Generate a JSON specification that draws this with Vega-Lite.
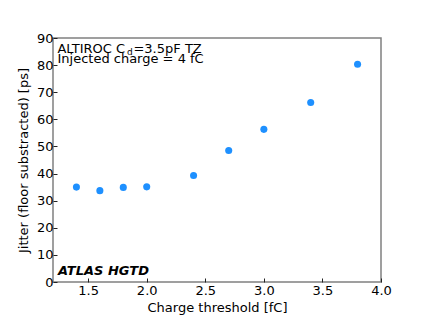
{
  "$schema": "https://vega.github.io/schema/vega-lite/v6.json",
  "width": 328,
  "height": 244,
  "autosize": "none",
  "padding": {"left": 53, "top": 38, "right": 42, "bottom": 36},
  "background": "white",
  "config": {
    "font": "DejaVu Sans",
    "view": {"stroke": "#808080", "strokeWidth": 1.5},
    "axis": {
      "domain": false,
      "grid": false,
      "ticks": true,
      "tickSize": -4,
      "tickColor": "#222",
      "tickWidth": 1,
      "labelOverlap": false,
      "labelFlush": false,
      "labelFont": "DejaVu Sans",
      "labelFontSize": 13,
      "labelColor": "black",
      "titleFont": "DejaVu Sans",
      "titleFontSize": 13,
      "titleFontWeight": "normal",
      "titleColor": "black"
    }
  },
  "layer": [
    {
      "data": {
        "values": [
          {"threshold": 1.4, "jitter": 35.0},
          {"threshold": 1.6, "jitter": 33.7},
          {"threshold": 1.8, "jitter": 34.9},
          {"threshold": 2.0, "jitter": 35.1},
          {"threshold": 2.4, "jitter": 39.3},
          {"threshold": 2.7, "jitter": 48.5},
          {"threshold": 3.0, "jitter": 56.3},
          {"threshold": 3.4, "jitter": 66.2},
          {"threshold": 3.8, "jitter": 80.3}
        ]
      },
      "mark": {"type": "point", "filled": true, "color": "#1e90ff", "opacity": 1, "size": 50},
      "encoding": {
        "x": {
          "field": "threshold", "type": "quantitative",
          "scale": {"domain": [1.2, 4.0], "nice": false, "zero": false},
          "axis": {"values": [1.5, 2.0, 2.5, 3.0, 3.5, 4.0], "format": ".1f", "title": "Charge threshold [fC]", "labelPadding": 6, "titlePadding": 4}
        },
        "y": {
          "field": "jitter", "type": "quantitative",
          "scale": {"domain": [0, 90], "nice": false},
          "axis": {"values": [0, 10, 20, 30, 40, 50, 60, 70, 80, 90], "format": "d", "title": "Jitter (floor substracted) [ps]", "labelPadding": 4, "titlePadding": 6}
        }
      }
    },
    {
      "data": {"values": [{"label": "ALTIROC C"}]},
      "mark": {"type": "text", "align": "left", "baseline": "alphabetic", "fontSize": 13, "font": "DejaVu Sans", "color": "black"},
      "encoding": {
        "x": {"datum": 1.238, "type": "quantitative", "axis": {"values": [1.5, 2.0, 2.5, 3.0, 3.5, 4.0], "format": ".1f", "title": "Charge threshold [fC]", "labelPadding": 6, "titlePadding": 4}},
        "y": {"datum": 84.6, "type": "quantitative", "axis": {"values": [0, 10, 20, 30, 40, 50, 60, 70, 80, 90], "format": "d", "title": "Jitter (floor substracted) [ps]", "labelPadding": 4, "titlePadding": 6}},
        "text": {"field": "label"}
      }
    },
    {
      "data": {"values": [{"label": "d"}]},
      "mark": {"type": "text", "align": "left", "baseline": "alphabetic", "fontSize": 9, "font": "DejaVu Sans", "color": "black", "dx": 69.5, "dy": 2},
      "encoding": {
        "x": {"datum": 1.238, "type": "quantitative", "axis": {"values": [1.5, 2.0, 2.5, 3.0, 3.5, 4.0], "format": ".1f", "title": "Charge threshold [fC]", "labelPadding": 6, "titlePadding": 4}},
        "y": {"datum": 84.6, "type": "quantitative", "axis": {"values": [0, 10, 20, 30, 40, 50, 60, 70, 80, 90], "format": "d", "title": "Jitter (floor substracted) [ps]", "labelPadding": 4, "titlePadding": 6}},
        "text": {"field": "label"}
      }
    },
    {
      "data": {"values": [{"label": "=3.5pF TZ"}]},
      "mark": {"type": "text", "align": "left", "baseline": "alphabetic", "fontSize": 13, "font": "DejaVu Sans", "color": "black", "dx": 76},
      "encoding": {
        "x": {"datum": 1.238, "type": "quantitative", "axis": {"values": [1.5, 2.0, 2.5, 3.0, 3.5, 4.0], "format": ".1f", "title": "Charge threshold [fC]", "labelPadding": 6, "titlePadding": 4}},
        "y": {"datum": 84.6, "type": "quantitative", "axis": {"values": [0, 10, 20, 30, 40, 50, 60, 70, 80, 90], "format": "d", "title": "Jitter (floor substracted) [ps]", "labelPadding": 4, "titlePadding": 6}},
        "text": {"field": "label"}
      }
    },
    {
      "data": {"values": [{"label": "Injected charge = 4 fC"}]},
      "mark": {"type": "text", "align": "left", "baseline": "alphabetic", "fontSize": 13, "font": "DejaVu Sans", "color": "black"},
      "encoding": {
        "x": {"datum": 1.238, "type": "quantitative", "axis": {"values": [1.5, 2.0, 2.5, 3.0, 3.5, 4.0], "format": ".1f", "title": "Charge threshold [fC]", "labelPadding": 6, "titlePadding": 4}},
        "y": {"datum": 80.6, "type": "quantitative", "axis": {"values": [0, 10, 20, 30, 40, 50, 60, 70, 80, 90], "format": "d", "title": "Jitter (floor substracted) [ps]", "labelPadding": 4, "titlePadding": 6}},
        "text": {"field": "label"}
      }
    },
    {
      "data": {"values": [{"label": "ATLAS HGTD"}]},
      "mark": {"type": "text", "align": "left", "baseline": "alphabetic", "fontSize": 13, "font": "DejaVu Sans", "fontWeight": "bold", "fontStyle": "italic", "color": "black"},
      "encoding": {
        "x": {"datum": 1.243, "type": "quantitative", "axis": {"values": [1.5, 2.0, 2.5, 3.0, 3.5, 4.0], "format": ".1f", "title": "Charge threshold [fC]", "labelPadding": 6, "titlePadding": 4}},
        "y": {"datum": 2.6, "type": "quantitative", "axis": {"values": [0, 10, 20, 30, 40, 50, 60, 70, 80, 90], "format": "d", "title": "Jitter (floor substracted) [ps]", "labelPadding": 4, "titlePadding": 6}},
        "text": {"field": "label"}
      }
    }
  ]
}
